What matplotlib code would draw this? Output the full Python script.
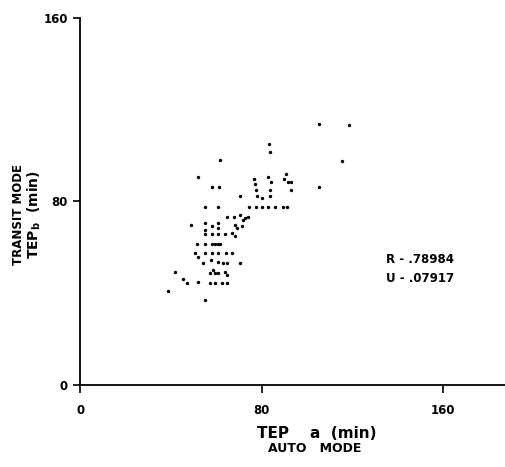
import matplotlib
matplotlib.use("Agg")
import matplotlib.pyplot as plt

# TEP values (min), auto mode vs transit mode
tep_auto = [105.3, 118.6, 83.2, 83.7, 115.5, 61.6, 51.9, 58.0, 61.1, 70.4,
            55.0, 60.7, 76.6, 82.8, 77.1, 84.1, 77.5, 83.7, 77.9, 80.1,
            83.7, 90.8, 89.9, 91.6, 93.0, 93.0, 105.3,
            74.4, 77.5, 80.2, 82.8, 85.9, 89.4, 91.2,
            64.7, 67.8, 70.4, 72.6, 74.0, 71.7, 48.8,
            55.0, 58.1, 60.7, 60.7, 68.2, 71.3, 69.1, 66.9, 68.2,
            55.0, 55.0, 58.1, 60.7, 63.8,
            51.4, 55.0, 58.1, 59.4, 60.7, 61.6,
            50.5, 55.0, 58.1, 60.7, 64.2, 66.9, 51.9,
            57.6, 60.7, 62.9, 64.7, 70.4, 54.1,
            58.5, 59.4, 60.7, 63.8, 64.7, 57.2, 41.7,
            45.2, 47.1, 51.9, 57.2, 59.4, 62.5, 64.7,
            38.6, 55.0]
tep_transit = [113.6, 113.2, 104.9, 101.4, 97.5, 97.9, 90.5, 86.1, 86.1, 82.2,
               77.8, 77.8, 90.0, 90.5, 87.4, 88.3, 84.8, 85.2, 82.2, 81.7,
               82.2, 91.8, 89.6, 88.7, 88.7, 85.2, 86.1,
               77.4, 77.4, 77.4, 77.4, 77.4, 77.4, 77.4,
               73.4, 73.4, 74.3, 73.0, 73.4, 72.1, 69.9,
               70.8, 69.1, 70.8, 68.6, 69.9, 69.5, 68.6, 66.4, 65.1,
               67.7, 65.6, 65.6, 65.6, 65.6,
               61.6, 61.6, 61.6, 61.6, 61.6, 61.6,
               57.7, 57.7, 57.7, 57.7, 57.7, 57.7, 55.9,
               54.6, 53.8, 53.3, 53.3, 53.3, 53.3,
               50.3, 49.0, 49.0, 49.4, 48.1, 49.0, 49.4,
               46.3, 44.6, 45.0, 44.6, 44.6, 44.6, 44.6,
               41.1, 37.2]

ticks = [0, 80, 160]
stats = ["R - .78984", "U - .07917"]

fig = plt.figure(figsize=(5.05, 4.67), dpi=100)
ax = fig.add_axes([0.159, 0.1756, 0.841, 0.786])

ax.scatter(tep_auto, tep_transit, s=6, color="black", linewidths=0)

ax.set_xlim(0, 187.5)
ax.set_ylim(0, 160)
ax.set_xticks(ticks)
ax.set_yticks(ticks)
ax.set_xticklabels([str(t) for t in ticks], fontsize=8.5, fontweight="bold")
ax.set_yticklabels([str(t) for t in ticks], fontsize=8.5, fontweight="bold")
ax.tick_params(axis="x", direction="out", length=6, width=1.2, pad=8)
ax.tick_params(axis="y", direction="out", length=5, width=1.2, pad=4)

ax.spines["top"].set_visible(False)
ax.spines["right"].set_visible(False)
ax.spines["left"].set_linewidth(1.3)
ax.spines["bottom"].set_linewidth(1.3)

# statistics text
ax.text(135, 54.5, stats[0], fontsize=8.5, fontweight="bold", va="center")
ax.text(135, 46.5, stats[1], fontsize=8.5, fontweight="bold", va="center")

# axis titles
fig.text(0.627, 0.071, "TEP    a  (min)", fontsize=11, fontweight="bold",
         ha="center", va="center")
fig.text(0.623, 0.04, "AUTO   MODE", fontsize=9, fontweight="bold",
         ha="center", va="center")
fig.text(0.037, 0.54, "TRANSIT MODE", fontsize=8.5, fontweight="bold",
         ha="center", va="center", rotation=90)
fig.text(0.067, 0.54, r"TEP$_{\mathbf{b}}$  (min)", fontsize=10, fontweight="bold",
         ha="center", va="center", rotation=90)

fig.savefig("out.png", dpi=100, facecolor="white")
